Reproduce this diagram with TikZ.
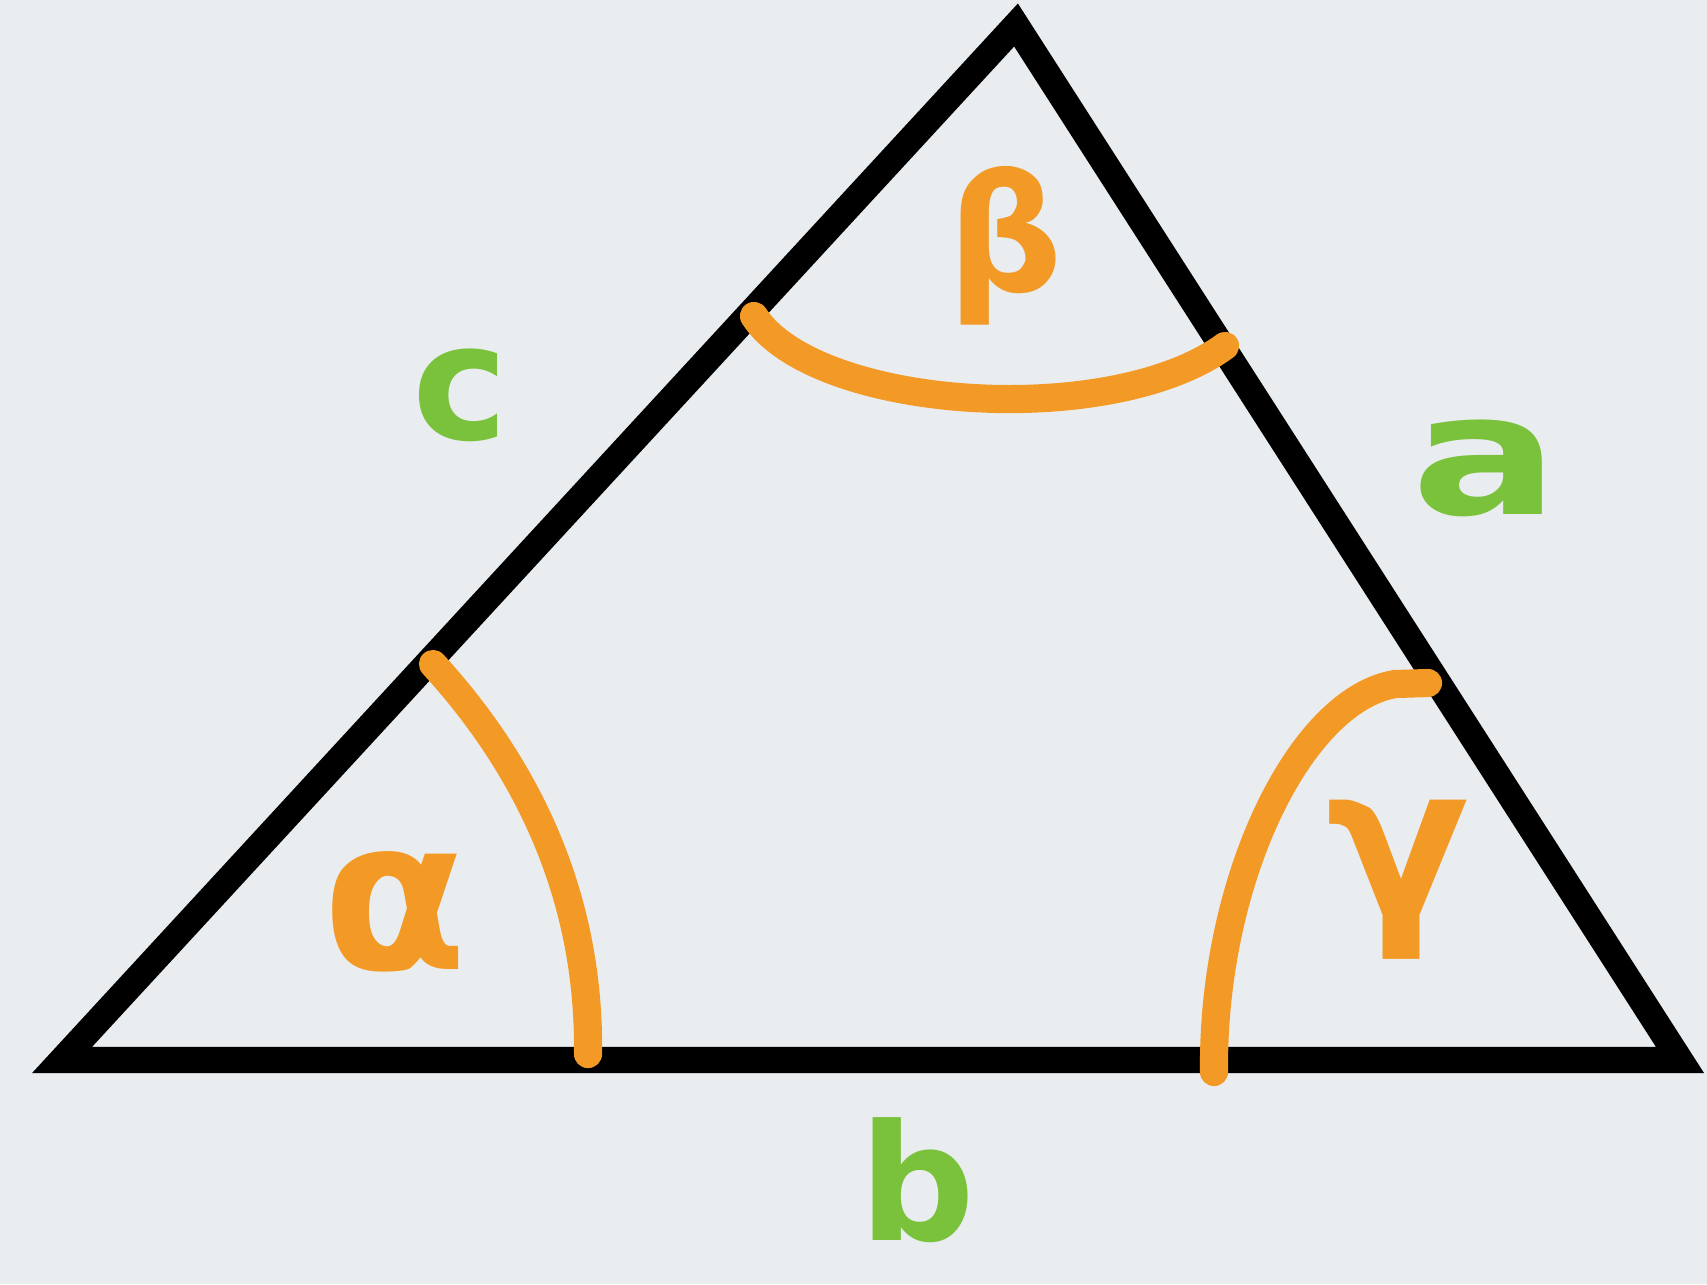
\documentclass[tikz,border=0pt]{standalone}
\usepackage{fontspec}
\setmainfont{DejaVu Sans}
\definecolor{paper}{HTML}{EAEDF0}
\definecolor{sidegreen}{HTML}{7AC23C}
\definecolor{angleorange}{HTML}{F39A26}
\tikzset{
  side/.style={draw=black, line width=7.5pt, line join=miter},
  anglearc/.style={draw=angleorange, line width=8pt, line cap=round},
  sidelabel/.style={text=sidegreen, font=\bfseries, inner sep=0pt},
  anglelabel/.style={text=angleorange, font=\bfseries, inner sep=0pt}
}
\newcommand\labsize[1]{\fontsize{#1}{#1}\selectfont}
\begin{document}
\begin{tikzpicture}[x=0.01cm, y=-0.01cm]

\fill[paper] (0,0) rectangle (1707,1284);
\useasboundingbox (0,0) rectangle (1707,1284);

% corners of the triangle
\coordinate (A) at (62,1060);
\coordinate (B) at (1016,25);
\coordinate (C) at (1680,1060);
\draw[side] (A) -- (B) -- (C) -- cycle;

% angle arcs
\coordinate (alphaS) at (433,664);
\coordinate (alphaE) at (588,1054);
\draw[anglearc] (alphaS) .. controls (530,770) and (590,900) .. (alphaE);

\coordinate (betaS) at (754,316);
\coordinate (betaE) at (1225,346);
\draw[anglearc] (betaS) .. controls (815,410) and (1110,430) .. (betaE);

\coordinate (gammaS) at (1428,683);
\coordinate (gammaE) at (1214,1072);
\draw[anglearc] (gammaS) -- (1395,684) .. controls (1300,700) and (1212,880) .. (gammaE);

% labels
\node[sidelabel, font=\bfseries\labsize{46}] (labc) at (460,395) {c};
\node[sidelabel, font=\bfseries\labsize{48}, xscale=1.3] (laba) at (1486,468) {a};
\node[sidelabel, font=\bfseries\labsize{46}] (labb) at (917,1180) {b};
\node[anglelabel, font=\bfseries\labsize{60}] (alpha) at (395,912) {α};
\node[anglelabel, font=\bfseries\labsize{46}] (beta) at (1005,246) {β};
\node[anglelabel, font=\bfseries\labsize{60}] (gamma) at (1398,880) {γ};

\end{tikzpicture}
\end{document}
